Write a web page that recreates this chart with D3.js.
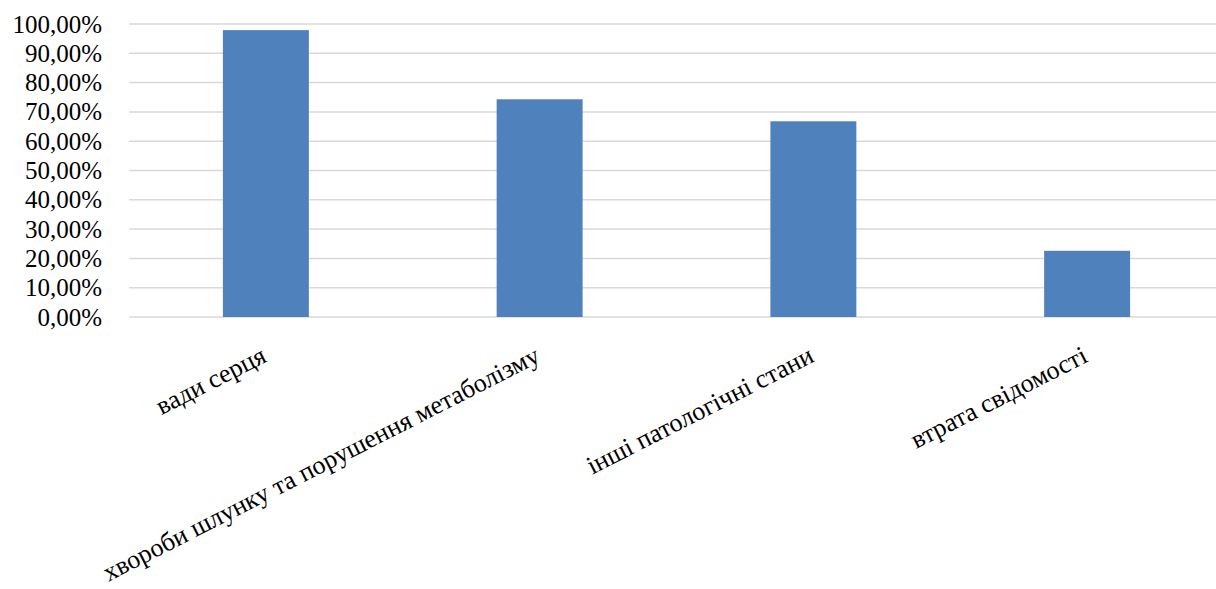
<!DOCTYPE html>
<html>
<head>
<meta charset="utf-8">
<script src="https://cdn.jsdelivr.net/npm/d3@7/dist/d3.min.js"></script>
<style>
  html, body { margin: 0; padding: 0; background: #fff; overflow: hidden; }
  svg { display: block; }
</style>
</head>
<body>
<svg id="chart" width="1216" height="589"></svg>
<script>
// Categories and their shares
const categories = [
  "вади серця",
  "хвороби шлунку та порушення метаболізму",
  "інші патологічні стани",
  "втрата свідомості"
];
const values = [0.979, 0.743, 0.668, 0.226];
const yTicks = [0, 0.1, 0.2, 0.3, 0.4, 0.5, 0.6, 0.7, 0.8, 0.9, 1.0];

const FONT = "Liberation Serif";
const svg = d3.select("#chart");
const plot = { left: 129, right: 1224, top: 24, bottom: 317 };

const x = d3.scaleBand()
  .domain(categories)
  .range([plot.left, plot.right])
  .paddingInner(0.686)
  .paddingOuter(0.343);

const y = d3.scaleLinear()
  .domain([0, 1])
  .range([plot.bottom, plot.top]);

const fmt = v => (v * 100).toFixed(2).replace(".", ",") + "%";

// Horizontal gridlines
svg.append("g")
  .selectAll("line")
  .data(yTicks)
  .join("line")
  .attr("x1", plot.left)
  .attr("x2", plot.right)
  .attr("y1", d => y(d))
  .attr("y2", d => y(d))
  .attr("stroke", "#d9d9d9")
  .attr("stroke-width", 1.5);

// Y axis labels
const yAxis = d3.axisLeft(y)
  .tickValues(yTicks)
  .tickFormat(fmt)
  .tickSize(0)
  .tickPadding(27);

svg.append("g")
  .attr("transform", `translate(${plot.left},0)`)
  .call(yAxis)
  .call(g => g.select(".domain").remove())
  .call(g => g.selectAll("text")
    .attr("font-family", FONT)
    .attr("font-size", 25)
    .attr("fill", "#000"));

// Bars
svg.append("g")
  .selectAll("rect")
  .data(values)
  .join("rect")
  .attr("x", (d, i) => x(categories[i]))
  .attr("width", x.bandwidth())
  .attr("y", d => y(d))
  .attr("height", d => y(0) - y(d))
  .attr("fill", "#4f81bd");

// Rotated category labels
svg.append("g")
  .selectAll("text")
  .data(categories)
  .join("text")
  .attr("transform", d => `translate(${x(d) + x.bandwidth() / 2 + 2},${plot.bottom + 44}) rotate(-27)`)
  .attr("text-anchor", "end")
  .attr("font-family", FONT)
  .attr("font-size", 26)
  .attr("fill", "#000")
  .text(d => d);
</script>
</body>
</html>
